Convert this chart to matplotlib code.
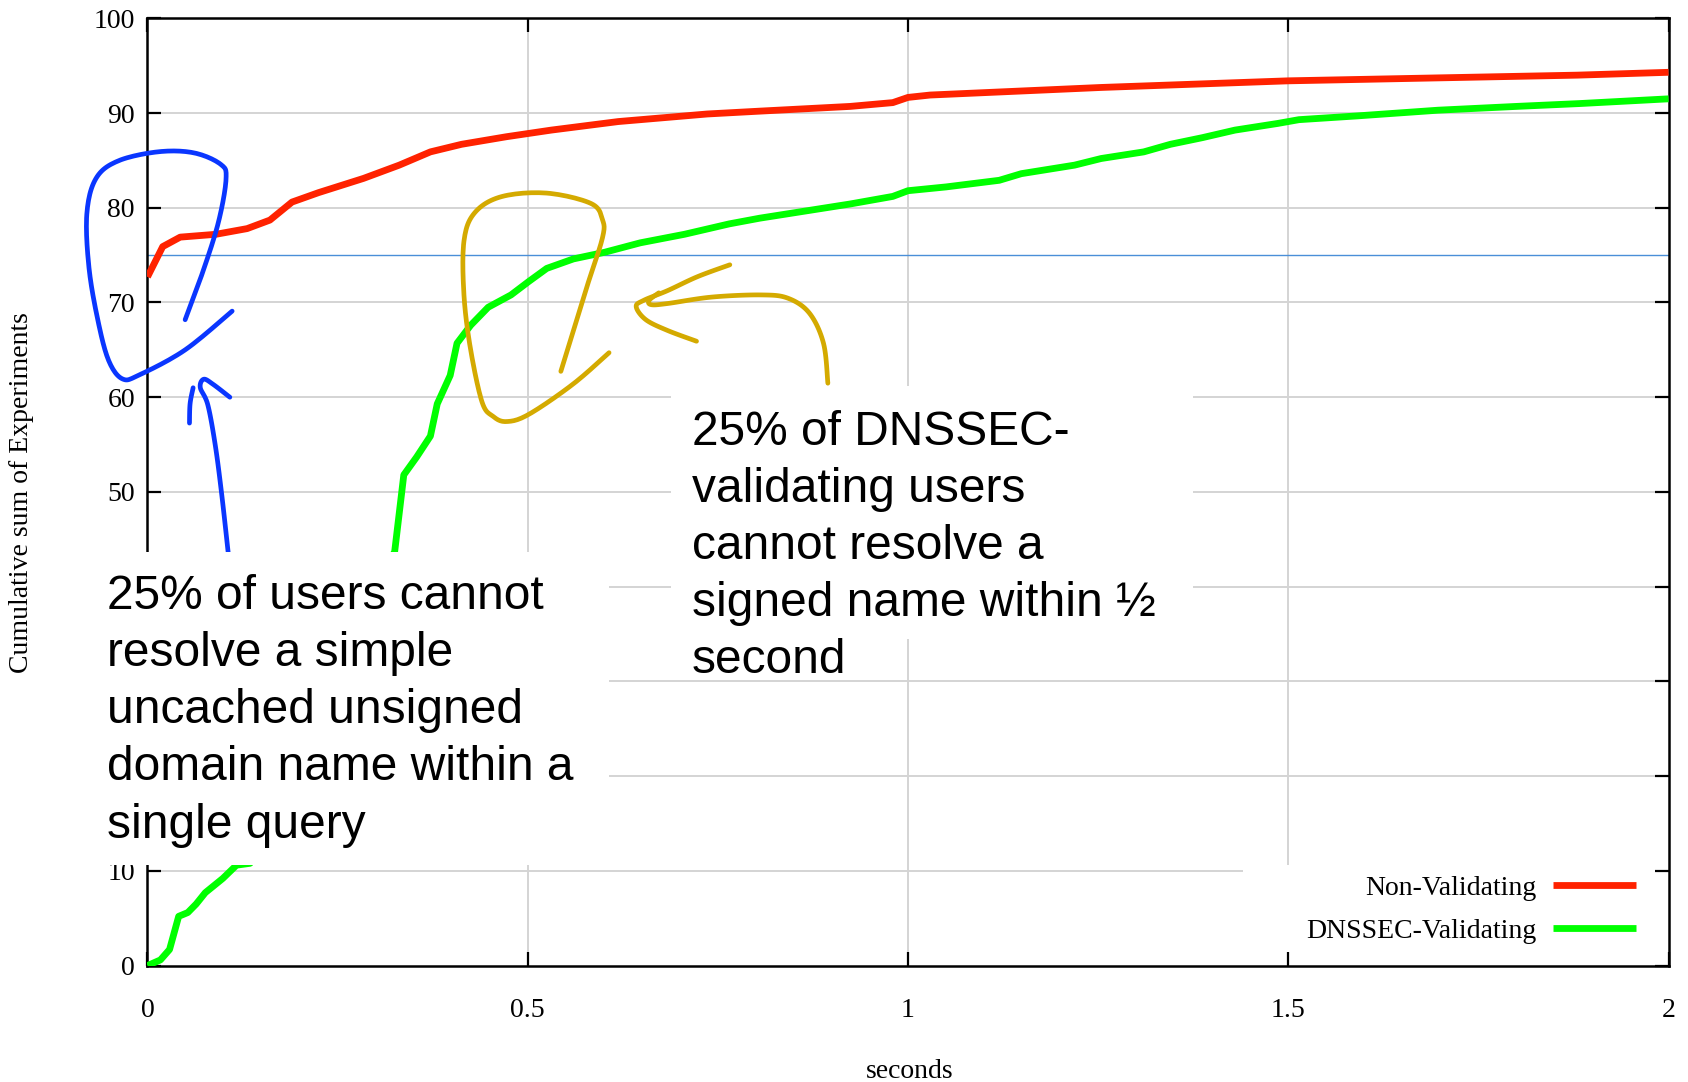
import matplotlib
matplotlib.use("Agg")
import numpy as np
import matplotlib.pyplot as plt
from matplotlib.patches import Rectangle

plt.rcParams['font.family'] = ['Liberation Serif', 'DejaVu Serif']

# ---------------- data ----------------
red_x = [0.0, 0.02, 0.043, 0.09, 0.131, 0.161, 0.19, 0.225, 0.284, 0.331, 0.372, 0.413,
         0.472, 0.531, 0.619, 0.736, 0.805, 0.924, 0.98, 1.0, 1.029, 1.254, 1.5, 1.88, 2.0]
red_y = [72.7, 75.9, 76.9, 77.2, 77.8, 78.7, 80.6, 81.6, 83.1, 84.5, 85.9, 86.7,
         87.5, 88.2, 89.1, 89.9, 90.2, 90.7, 91.1, 91.65, 91.9, 92.7, 93.4, 94.0, 94.3]

green_x = [0.0, 0.017, 0.029, 0.041, 0.053, 0.064, 0.076, 0.099, 0.117, 0.135, 0.2, 0.28,
           0.325, 0.337, 0.354, 0.372, 0.381, 0.398, 0.407, 0.425, 0.448, 0.478, 0.501,
           0.525, 0.56, 0.601, 0.648, 0.706, 0.765, 0.805, 0.924, 0.98, 1.0, 1.05, 1.12,
           1.149, 1.219, 1.254, 1.31, 1.345, 1.387, 1.43, 1.486, 1.514, 1.591, 1.697,
           1.80, 1.883, 2.0]
green_y = [0.0, 0.6, 1.7, 5.2, 5.6, 6.5, 7.7, 9.2, 10.6, 10.8, 24.0, 37.0,
           43.7, 51.8, 53.7, 55.9, 59.3, 62.3, 65.7, 67.6, 69.5, 70.8, 72.2,
           73.6, 74.6, 75.3, 76.3, 77.2, 78.3, 78.9, 80.4, 81.2, 81.8, 82.2, 82.9,
           83.6, 84.5, 85.2, 85.9, 86.7, 87.4, 88.2, 88.9, 89.3, 89.7, 90.3,
           90.7, 91.0, 91.5]

series_labels = ['Non-Validating', 'DNSSEC-Validating']
x_ticks = [0, 0.5, 1, 1.5, 2]
x_ticklabels = ['0', '0.5', '1', '1.5', '2']
y_ticks = [0, 10, 20, 30, 40, 50, 60, 70, 80, 90, 100]
y_ticklabels = [str(v) for v in y_ticks]
covered_ylabels = ['20', '30', '40']   # hidden under the white note box in the original
threshold = 75

note_left = ['25% of users cannot', 'resolve a simple', 'uncached unsigned',
             'domain name within a', 'single query']
note_right = ['25% of DNSSEC-', 'validating users', 'cannot resolve a',
              'signed name within \u00bd', 'second']

# hand-drawn annotation strokes (data coordinates)
blue_loop_x = [0.0495, 0.0730, 0.0934, 0.1033, 0.0962, 0.0609, 0.0142, -0.0388, -0.0679,
               -0.0798, -0.0769, -0.0651, -0.0510, -0.0328, -0.0099, 0.0495, 0.1113]
blue_loop_y = [68.18, 73.30, 78.52, 83.07, 84.59, 85.80, 85.91, 84.94, 83.07,
               79.32, 73.64, 68.07, 63.86, 61.93, 62.39, 65.0, 69.09]
blue_arrow_x = [0.1062, 0.0977, 0.0892, 0.0793, 0.0694, 0.0740, 0.0863, 0.1083]
blue_arrow_y = [43.52, 49.66, 54.89, 59.20, 61.02, 61.90, 61.36, 60.0]
blue_barb_x = [0.0552, 0.0560, 0.0600]
blue_barb_y = [57.27, 59.32, 61.00]

gold_loop_x = [0.5435, 0.5775, 0.5982, 0.5982, 0.5832, 0.5248, 0.4657, 0.4303, 0.4161,
               0.4161, 0.4246, 0.4399, 0.4544, 0.4719, 0.5011, 0.5591, 0.6069]
gold_loop_y = [62.73, 71.59, 76.82, 78.75, 80.45, 81.55, 81.18, 79.48, 76.48,
               70.80, 65.15, 59.49, 57.98, 57.43, 58.18, 61.36, 64.70]
gold_shaft_x = [0.8946, 0.8889, 0.8705, 0.8422, 0.8068, 0.7417, 0.6837, 0.6624, 0.6596, 0.6723]
gold_shaft_y = [61.48, 65.68, 68.86, 70.45, 70.80, 70.57, 69.89, 69.77, 70.23, 71.02]
gold_head_x = [0.7657, 0.7233, 0.6837, 0.6525, 0.6426, 0.6553, 0.6837, 0.7219]
gold_head_y = [73.98, 72.73, 71.25, 70.23, 69.55, 68.18, 67.05, 65.91]


def smooth_stroke(xs, ys, n=12):
    """Catmull-Rom smoothing for the freehand annotation strokes (cosmetic only)."""
    p = np.column_stack([xs, ys]).astype(float)
    p[:, 0] *= 80.0
    p = np.vstack([p[0], p, p[-1]])
    out = []
    for i in range(1, len(p) - 2):
        p0, p1, p2, p3 = p[i - 1], p[i], p[i + 1], p[i + 2]
        for t in np.linspace(0, 1, n, endpoint=False):
            t2, t3 = t * t, t * t * t
            out.append(0.5 * ((2 * p1) + (-p0 + p2) * t + (2 * p0 - 5 * p1 + 4 * p2 - p3) * t2
                              + (-p0 + 3 * p1 - 3 * p2 + p3) * t3))
    out.append(p[-2])
    out = np.array(out)
    return out[:, 0] / 80.0, out[:, 1]


# ---------------- figure ----------------
fig = plt.figure(figsize=(16.88, 10.82), dpi=100)
ax = fig.add_axes([0.08738, 0.10758, 0.9011, 0.8755])
ax.set_xlim(0, 2)
ax.set_ylim(0, 100)

grid_c = '#d4d4d4'
for gx in x_ticks[1:-1]:
    ax.axvline(gx, color=grid_c, lw=1.4, zorder=0.5)
for gy in y_ticks[1:-1]:
    ax.axhline(gy, color=grid_c, lw=1.4, zorder=0.5)

ax.axhline(threshold, color='#4a8fd8', lw=1.0, zorder=1.5)

# white box behind legend
ax.add_patch(Rectangle((0.7205, 0.0), 0.2795, 0.106, transform=ax.transAxes,
                       facecolor='white', edgecolor='none', zorder=1))

ax.plot(red_x, red_y, color='#ff2200', lw=4.9, zorder=3, label=series_labels[0],
        solid_joinstyle='round', solid_capstyle='butt')
ax.plot(green_x, green_y, color='#00ff00', lw=4.9, zorder=3, label=series_labels[1],
        solid_joinstyle='round', solid_capstyle='butt')

scrib = dict(lw=3.4, clip_on=False, zorder=4, solid_capstyle='round', solid_joinstyle='round')
for sx, sy, c in [(blue_loop_x, blue_loop_y, '#0a36ff'),
                  (blue_arrow_x, blue_arrow_y, '#0a36ff'),
                  (blue_barb_x, blue_barb_y, '#0a36ff'),
                  (gold_loop_x, gold_loop_y, '#d4aa00'),
                  (gold_shaft_x, gold_shaft_y, '#d4aa00'),
                  (gold_head_x, gold_head_y, '#d4aa00')]:
    qx, qy = smooth_stroke(sx, sy)
    ax.plot(qx, qy, color=c, **scrib)

ax.set_xticks(x_ticks)
ax.set_xticklabels(x_ticklabels)
ax.set_yticks(y_ticks)
ax.set_yticklabels(y_ticklabels)
for lbl in ax.get_yticklabels():
    if lbl.get_text() in covered_ylabels:
        lbl.set_visible(False)
ax.tick_params(direction='in', length=10, width=1.6, top=True, right=True,
               labelsize=20, color='black')
ax.tick_params(axis='x', pad=23)
ax.tick_params(axis='y', pad=9)
for s in ax.spines.values():
    s.set_linewidth(1.8)
    s.set_color('black')

leg = ax.legend(loc='lower right', bbox_to_anchor=(0.9788, 0.0228), borderpad=0,
                borderaxespad=0, handlelength=3.0, handletextpad=0.6, labelspacing=0.64,
                markerfirst=False, frameon=False, fontsize=20)
leg.set_zorder(6)

fig.text(21.5 / 1688, 1 - 492.5 / 1082, 'Cumulative sum of Experiments', rotation=90,
         ha='center', va='center', fontsize=20)
fig.text(909.6 / 1688, 1 - 1078.0 / 1082, 'seconds', ha='center', va='baseline', fontsize=20)

# annotation boxes (white, on top of the plot)
fig.add_artist(Rectangle((81 / 1688, 1 - 865 / 1082), 528 / 1688, (865 - 552) / 1082,
                         transform=fig.transFigure, facecolor='white', edgecolor='none',
                         zorder=10))
fig.add_artist(Rectangle((0.3973, 0.4091), 0.3093, 0.2337, transform=fig.transFigure,
                         facecolor='white', edgecolor='none', zorder=10))

sans = ['Liberation Sans', 'DejaVu Sans']
left_base = [609, 666, 723, 780, 838]
right_base = [445, 502, 559, 616, 673]
for line, b in zip(note_left, left_base):
    fig.text(107 / 1688, 1 - b / 1082, line, fontsize=34.5, family=sans,
             va='baseline', ha='left', zorder=11)
for line, b in zip(note_right, right_base):
    fig.text(691.5 / 1688, 1 - b / 1082, line, fontsize=34.5, family=sans,
             va='baseline', ha='left', zorder=11)

fig.savefig('out.png', dpi=100)
